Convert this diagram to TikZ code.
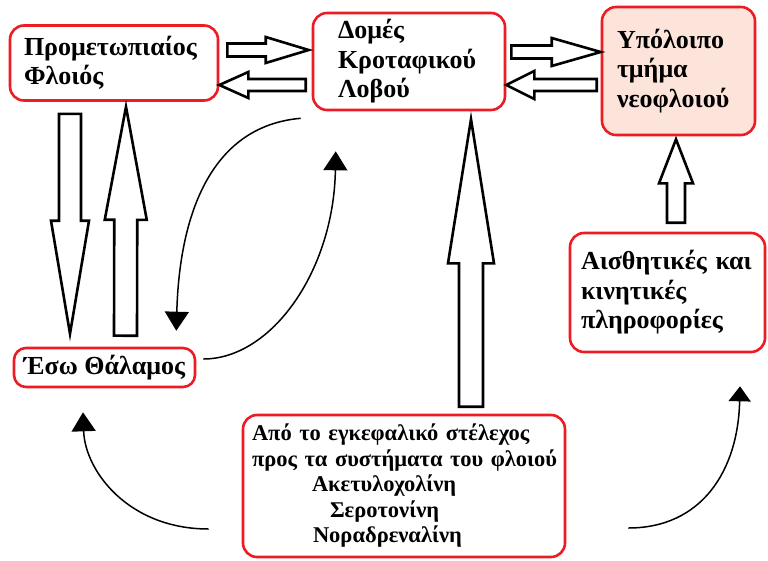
\documentclass[tikz,border=0pt]{standalone}
\usepackage{fontspec}
\setmainfont{Liberation Serif}[BoldFont={Liberation Serif Bold}]
\usetikzlibrary{arrows.meta,calc}
\definecolor{boxred}{RGB}{237,28,36}
\definecolor{boxpink}{RGB}{252,228,218}
\tikzset{
  % hollow block arrow from start to target: shaft half-width, head half-width, head length
  fat/.style n args={3}{to path={
    ($(\tikztostart)!#1!90:(\tikztotarget)$)
    -- ($($(\tikztotarget)!#3!(\tikztostart)$)!#1!90:(\tikztotarget)$)
    -- ($($(\tikztotarget)!#3!(\tikztostart)$)!#2!90:(\tikztotarget)$)
    -- (\tikztotarget)
    -- ($($(\tikztotarget)!#3!(\tikztostart)$)!#2!-90:(\tikztotarget)$)
    -- ($($(\tikztotarget)!#3!(\tikztostart)$)!#1!-90:(\tikztotarget)$)
    -- ($(\tikztostart)!#1!-90:(\tikztotarget)$) -- cycle}},
  blockarrow/.style={draw=black, line width=2.6pt, fill=white, line join=miter},
  box/.style={draw=boxred, line width=2.6pt, rounded corners=14pt,
    font=\fontsize{26}{29.5}\selectfont\bfseries, align=left, inner sep=0pt},
  curve/.style={line width=1.5pt, -{Triangle[width=24pt,length=19pt]}},
}
\begin{document}
\begin{tikzpicture}[x=1pt,y=-1pt]
\useasboundingbox (0,0) rectangle (768,560);

% boxes
\node[box, minimum width=208pt, minimum height=75pt, text width=180pt] (pfc) at (114,63)
  {Προμετωπιαίος\\Φλοιός};
\node[box, minimum width=192pt, minimum height=97pt, text width=142pt] (temporal) at (409,61.5)
  {Δομές\\Κροταφικού\\Λοβού};
\node[box, fill=boxpink, minimum width=153pt, minimum height=128pt, text width=123pt] (neo) at (678.5,71)
  {Υπόλοιπο\\τμήμα\\νεοφλοιού};
\node[box, minimum width=195pt, minimum height=119pt, text width=173pt] (sensory) at (667.5,292.5)
  {\mbox{Αισθητικές και}\\κινητικές\\πληροφορίες};
\node[box, rounded corners=12pt, align=center, minimum width=181pt, minimum height=39pt] (thal) at (104.5,367.5)
  {Έσω Θάλαμος};
\node[box, font=\fontsize{22.5}{25.5}\selectfont\bfseries, minimum width=322pt, minimum height=142pt, text width=304pt] (stem) at (404,486)
  {Από το εγκεφαλικό στέλεχος\\\mbox{προς τα συστήματα του φλοιού}\\
   \hspace*{60pt}Ακετυλοχολίνη\\\hspace*{78pt}Σεροτονίνη\\\hspace*{61pt}Νοραδρεναλίνη};

% block arrow end points
\coordinate (a1s) at ($(pfc.east)+(8,-13)$);
\coordinate (a1t) at ($(temporal.west)+(-3,-11.5)$);
\coordinate (a2s) at ($(temporal.west)+(-6,23.5)$);
\coordinate (a2t) at ($(pfc.east)+(0,22)$);
\coordinate (a3s) at ($(temporal.east)+(5,-9.5)$);
\coordinate (a3t) at ($(neo.west)+(0,-19)$);
\coordinate (a4s) at ($(neo.west)+(-4,14)$);
\coordinate (a4t) at ($(temporal.east)+(0,23.5)$);
\coordinate (a5s) at ($(pfc.south)+(-44,12)$);
\coordinate (a5t) at ($(thal.north)+(-34.5,-13)$);
\coordinate (a6s) at ($(thal.north)+(21,-11)$);
\coordinate (a6t) at ($(pfc.south)+(12,5)$);
\coordinate (a7s) at ($(stem.north)+(67,-7)$);
\coordinate (a7t) at ($(temporal.south)+(62,8)$);
\coordinate (a8s) at ($(sensory.north)+(8.5,-9)$);
\coordinate (a8t) at ($(neo.south)+(-2.5,3)$);

% hollow block arrows
\draw[blockarrow] (a1s) to[fat={6.5pt}{13pt}{43pt}] (a1t);
\draw[blockarrow] (a2s) to[fat={6pt}{13pt}{29pt}] (a2t);
\draw[blockarrow] (a3s) to[fat={6.5pt}{14pt}{49pt}] (a3t);
\draw[blockarrow] (a4s) to[fat={6pt}{14pt}{28pt}] (a4t);
\draw[blockarrow] (a5s) to[fat={11pt}{19pt}{113pt}] (a5t);
\draw[blockarrow] (a6s) to[fat={11.5pt}{21pt}{113pt}] (a6t);
\draw[blockarrow] (a7s) to[fat={12pt}{23pt}{144pt}] (a7t);
\draw[blockarrow] (a8s) to[fat={9pt}{17pt}{44pt}] (a8t);

% curved connectors
\coordinate (c1s) at ($(temporal.south west)+(-11,7)$);
\coordinate (c1t) at ($(thal.north east)+(-20,-16)$);
\coordinate (c2s) at ($(thal.east)+(7,-8.5)$);
\coordinate (c2t) at ($(temporal.south west)+(24,40)$);
\coordinate (c3s) at ($(stem.west)+(-33,43)$);
\coordinate (c3t) at ($(thal.south)+(-21.5,24)$);
\coordinate (c4s) at ($(stem.east)+(62,42)$);
\coordinate (c4t) at ($(sensory.south)+(72.5,33)$);

\draw[curve] (c1s) .. controls +(-92,8) and +(3,-112) .. (c1t);
\draw[curve] (c2s) .. controls +(68,0) and +(-2,120) .. (c2t);
\draw[curve] (c3s) .. controls +(-80,0) and +(2,59) .. (c3t);
\draw[line width=1.5pt, -{Triangle[width=22pt,length=15pt]}] (c4s) .. controls +(73,0) and +(-2,85) .. (c4t);
\end{tikzpicture}
\end{document}
